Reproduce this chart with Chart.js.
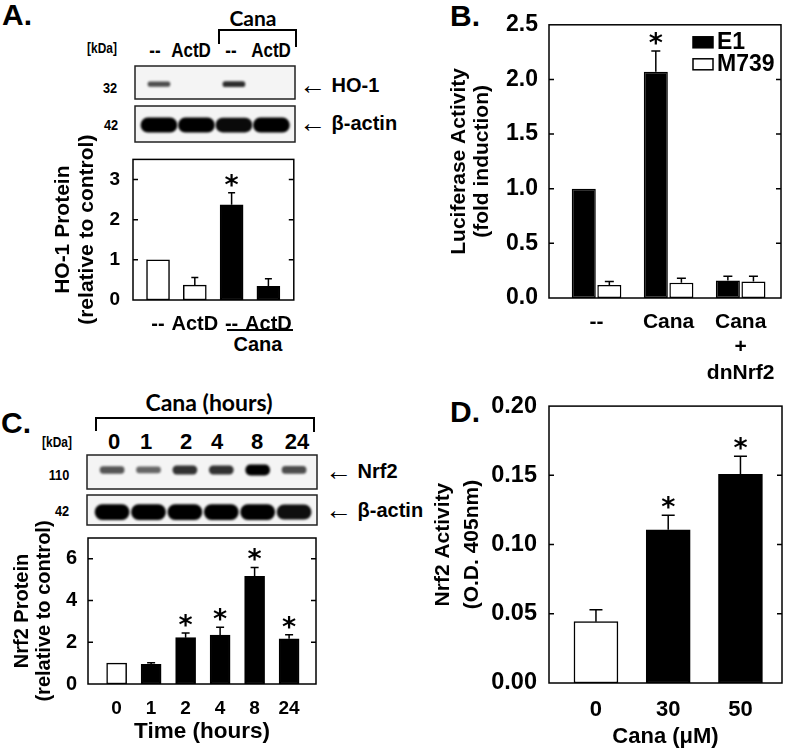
<!DOCTYPE html>
<html>
<head>
<meta charset="utf-8">
<title>Cana - HO-1 / Nrf2</title>
<script src="https://cdn.jsdelivr.net/npm/chart.js@4.4.1/dist/chart.umd.min.js"></script>
<style>
  body { margin: 0; background: #fff; }
  #fig { position: relative; width: 790px; height: 750px; overflow: hidden;
         font-family: "Liberation Sans", Arial, sans-serif; font-weight: bold; color: #000; }
  #fig canvas { position: absolute; }
  .t { position: absolute; transform: translate(-50%, -50%); white-space: nowrap; line-height: 1; }
  .nar { transform: translate(-50%, -50%) scaleX(0.85); }
  .lab { position: absolute; transform: translate(0, -50%); white-space: nowrap; line-height: 1; font-size: 20px; }
  .lab .arr { font-size: 27px; font-weight: normal; vertical-align: -2px; }
  .calib { font-family: Lato, "Open Sans", sans-serif; font-weight: 700; }
  .ln { position: absolute; background: #000; }
  .letter { font-size: 30px; }
</style>
</head>
<body>
<div id="fig">
  <!-- panel A : blot annotations -->
  <div class="t letter" style="left:17px;top:15px">A.</div>
  <div class="t calib" style="left:253px;top:17px;font-size:21px">Cana</div>
  <div class="ln" style="left:218px;top:29px;width:79px;height:2px"></div>
  <div class="ln" style="left:218px;top:29px;width:2px;height:15px"></div>
  <div class="ln" style="left:295px;top:29px;width:2px;height:18px"></div>
  <div class="t nar" style="left:102px;top:48px;font-size:14px">[kDa]</div>
  <div class="t nar" style="left:155px;top:50px;font-size:20px">--</div>
  <div class="t nar" style="left:191px;top:50px;font-size:20px">ActD</div>
  <div class="t nar" style="left:231px;top:50px;font-size:20px">--</div>
  <div class="t nar" style="left:271px;top:50px;font-size:20px">ActD</div>
  <div class="t nar" style="left:110px;top:87px;font-size:15px">32</div>
  <div class="t nar" style="left:111px;top:124px;font-size:15px">42</div>
  <div class="lab" style="left:299px;top:85px"><span class="arr">&larr;</span> HO-1</div>
  <div class="lab" style="left:299px;top:123px"><span class="arr">&larr;</span> &beta;-actin</div>
  <div class="ln" style="left:227px;top:329px;width:66px;height:2px"></div>
  <div class="t" style="left:258px;top:344px;font-size:20px">Cana</div>

  <!-- panel B -->
  <div class="t letter" style="left:465px;top:16px">B.</div>

  <!-- panel C : blot annotations -->
  <div class="t letter" style="left:16px;top:423px">C.</div>
  <div class="t calib" style="left:209px;top:402px;font-size:23px">Cana (hours)</div>
  <div class="ln" style="left:95px;top:417px;width:220px;height:2px"></div>
  <div class="ln" style="left:95px;top:417px;width:2px;height:14px"></div>
  <div class="ln" style="left:313px;top:417px;width:2px;height:15px"></div>
  <div class="t nar" style="left:57px;top:442px;font-size:14px">[kDa]</div>
  <div class="t" style="left:114px;top:442px;font-size:22px">0</div>
  <div class="t" style="left:146px;top:442px;font-size:22px">1</div>
  <div class="t" style="left:186px;top:442px;font-size:22px">2</div>
  <div class="t" style="left:217px;top:442px;font-size:22px">4</div>
  <div class="t" style="left:257px;top:442px;font-size:22px">8</div>
  <div class="t" style="left:297px;top:442px;font-size:22px">24</div>
  <div class="t nar" style="left:59px;top:474px;font-size:15px">110</div>
  <div class="t nar" style="left:62px;top:510px;font-size:15px">42</div>
  <div class="lab" style="left:325px;top:471px"><span class="arr">&larr;</span> Nrf2</div>
  <div class="lab" style="left:325px;top:510px"><span class="arr">&larr;</span> &beta;-actin</div>

  <!-- panel D -->
  <div class="t letter" style="left:465px;top:412px">D.</div>

  <canvas id="blotHO" width="162" height="35" style="left:134px;top:65px"></canvas>
  <canvas id="blotActA" width="162" height="38" style="left:134px;top:105px"></canvas>
  <canvas id="blotNrf2" width="232" height="36" style="left:86px;top:454px"></canvas>
  <canvas id="blotActC" width="232" height="32" style="left:86px;top:494px"></canvas>

  <canvas id="chartA" width="265" height="205" style="left:40px;top:135px"></canvas>
  <canvas id="chartB" width="350" height="392" style="left:440px;top:0px"></canvas>
  <canvas id="chartC" width="325" height="235" style="left:0px;top:515px"></canvas>
  <canvas id="chartD" width="370" height="370" style="left:420px;top:380px"></canvas>
</div>

<script>
// ---- data ----
// A: HO-1 protein (relative to control)
const aLabels = ['--', 'ActD', '--', 'ActD'];
const aValues = [1.0, 0.37, 2.37, 0.34];
const aErrors = [0, 0.19, 0.30, 0.19];
const aStars  = [false, false, true, false];
const aTicks  = [0, 1, 2, 3];

// B: luciferase activity (fold induction)
const bLabels = ['--', 'Cana', ['Cana', '+', 'dnNrf2']];
const bE1     = [1.0, 2.07, 0.16];
const bE1Err  = [0, 0.19, 0.04];
const bE1Star = [false, true, false];
const bM739   = [0.12, 0.14, 0.15];
const bM739Err = [0.03, 0.04, 0.05];
const bTicks  = [0, 0.5, 1.0, 1.5, 2.0, 2.5];

// C: Nrf2 protein over time
const cLabels = ['0', '1', '2', '4', '8', '24'];
const cValues = [1.0, 0.94, 2.22, 2.34, 5.16, 2.17];
const cErrors = [0, 0.08, 0.23, 0.38, 0.43, 0.19];
const cStars  = [false, false, true, true, true, true];
const cTicks  = [0, 2, 4, 6];

// D: Nrf2 activity (O.D. 405nm)
const dLabels = ['0', '30', '50'];
const dValues = [0.0443, 0.1107, 0.1508];
const dErrors = [0.0086, 0.0104, 0.0130];
const dStars  = [false, true, true];
const dTicks  = [0, 0.05, 0.10, 0.15, 0.20];

// western blot band strength per lane (0 = no band)
const hoBands   = [0.55, 0, 0.75, 0];
const actinA    = [1, 1, 0.95, 1];
const nrf2Bands = [0.5, 0.4, 0.72, 0.72, 1, 0.55];
const actinC    = [1, 1, 1, 1, 1, 0.92];

Chart.defaults.font.family = '"Liberation Sans", Arial, sans-serif';
Chart.defaults.font.weight = 'bold';
Chart.defaults.color = '#000';
Chart.defaults.animation = false;
Chart.defaults.plugins.legend.display = false;
Chart.defaults.plugins.tooltip.enabled = false;

// box round the plot area, with inward ticks on both sides
const framePlugin = {
  id: 'frame',
  afterDatasetsDraw(chart, args, opts) {
    const { ctx, chartArea: a } = chart;
    ctx.save();
    ctx.strokeStyle = '#000';
    ctx.lineWidth = opts.lineWidth || 1.5;
    ctx.strokeRect(a.left, a.top, a.right - a.left, a.bottom - a.top);
    if (opts.tickLen) {
      const y = chart.scales.y;
      ctx.beginPath();
      y.ticks.forEach(t => {
        const py = y.getPixelForValue(t.value);
        if (py <= a.top + 1 || py >= a.bottom - 1) return;
        ctx.moveTo(a.left, py); ctx.lineTo(a.left + opts.tickLen, py);
        ctx.moveTo(a.right, py); ctx.lineTo(a.right - opts.tickLen, py);
      });
      ctx.stroke();
    }
    ctx.restore();
  }
};

// upper error bars + significance stars
const errorBarPlugin = {
  id: 'errorBars',
  afterDatasetsDraw(chart, args, opts) {
    const { ctx } = chart;
    const yScale = chart.scales.y;
    ctx.save();
    ctx.strokeStyle = '#000';
    ctx.fillStyle = '#000';
    ctx.lineWidth = 1.5;
    ctx.font = 'bold 27px "DejaVu Sans"';
    ctx.textAlign = 'center';
    ctx.textBaseline = 'alphabetic';
    chart.data.datasets.forEach((ds, i) => {
      chart.getDatasetMeta(i).data.forEach((bar, j) => {
        const err = ds.errors ? ds.errors[j] : 0;
        const top = yScale.getPixelForValue(ds.data[j].y + err);
        if (err > 0) {
          ctx.beginPath();
          ctx.moveTo(bar.x, bar.y);
          ctx.lineTo(bar.x, top);
          ctx.moveTo(bar.x - opts.cap / 2, top);
          ctx.lineTo(bar.x + opts.cap / 2, top);
          ctx.stroke();
        }
        if (ds.stars && ds.stars[j]) ctx.fillText('*', bar.x, top + 1);
      });
    });
    ctx.restore();
  }
};

// small legend inside panel B (top right)
const boxLegendPlugin = {
  id: 'boxLegend',
  afterDraw(chart, args, opts) {
    if (!opts.show) return;
    const { ctx, chartArea: a } = chart;
    ctx.save();
    ctx.font = 'bold 23px "Liberation Sans"';
    ctx.textBaseline = 'middle';
    chart.data.datasets.forEach((ds, i) => {
      const x = a.right - 88, y = a.top + 12 + i * 22;
      ctx.fillStyle = ds.backgroundColor;
      ctx.fillRect(x, y, 20, 11);
      ctx.strokeStyle = '#000';
      ctx.lineWidth = 1.5;
      ctx.strokeRect(x, y, 20, 11);
      ctx.fillStyle = '#000';
      ctx.fillText(ds.label, x + 24, y + 6);
    });
    ctx.restore();
  }
};

function toXY(values) {
  return values.map((v, i) => ({ x: i, y: v }));
}

function barPanel(id, o) {
  return new Chart(document.getElementById(id), {
    type: 'bar',
    data: { datasets: o.datasets },
    options: {
      responsive: false,
      layout: { padding: o.padding },
      datasets: { bar: { borderColor: '#000', borderWidth: 1.5, borderSkipped: false,
                         barThickness: o.barThickness, categoryPercentage: o.catPct || 0.8,
                         barPercentage: o.barPct || 0.9 } },
      scales: {
        x: {
          type: 'linear', min: o.xMin, max: o.xMax, offset: false,
          grid: { display: false, drawTicks: false }, border: { display: false },
          afterBuildTicks: s => { s.ticks = o.labels.map((_, i) => ({ value: i })); },
          afterFit: s => { s.height = o.xHeight; },
          ticks: { callback: (v, i) => o.labels[i], padding: o.xPad, font: o.xFont,
                   autoSkip: false, maxRotation: 0, minRotation: 0 },
          title: o.xTitle ? { display: true, text: o.xTitle, font: o.xTitleFont,
                              padding: { top: 0, bottom: o.xTitlePad } } : { display: false }
        },
        y: {
          min: 0, max: o.yMax,
          grid: { display: false, drawTicks: false }, border: { display: false },
          afterBuildTicks: s => { s.ticks = o.yTicks.map(v => ({ value: v })); },
          afterFit: s => { s.width = o.yWidth; },
          ticks: { padding: o.yPad, font: o.yFont, callback: v => Number(v).toFixed(o.dec) },
          title: { display: true, text: o.yTitle, font: o.yTitleFont,
                   padding: { top: o.yTitlePad, bottom: 0 } }
        }
      },
      plugins: {
        frame: { tickLen: 5, lineWidth: 1.5 },
        errorBars: { cap: o.cap },
        boxLegend: { show: !!o.legend }
      }
    },
    plugins: [framePlugin, errorBarPlugin, boxLegendPlugin]
  });
}

// ---- A ----
barPanel('chartA', {
  labels: aLabels,
  datasets: [{ data: toXY(aValues), errors: aErrors, stars: aStars,
               backgroundColor: ['#fff', '#fff', '#000', '#000'] }],
  padding: { top: 16, right: 8, left: 0, bottom: 0 },
  xMin: -0.68, xMax: 3.69, xHeight: 40, xPad: 12, xFont: { size: 20 },
  barThickness: 23,
  yMax: 3.5, yTicks: aTicks, dec: 0, yWidth: 93, yPad: 13, yFont: { size: 19 },
  yTitle: ['HO-1 Protein', '(relative to control)'],
  yTitleFont: { size: 21, lineHeight: 1.15 }, yTitlePad: 11,
  cap: 7
});

// ---- B ----
barPanel('chartB', {
  labels: bLabels,
  datasets: [
    { label: 'E1', data: toXY(bE1), errors: bE1Err, stars: bE1Star, backgroundColor: '#000' },
    { label: 'M739', data: toXY(bM739), errors: bM739Err, backgroundColor: '#fff' }
  ],
  legend: true,
  padding: { top: 16, right: 9, left: 0, bottom: 0 },
  xMin: -0.66, xMax: 2.56, xHeight: 94, xPad: 11, xFont: { size: 21, lineHeight: 1.22 },
  catPct: 0.71, barPct: 0.94,
  yMax: 2.5, yTicks: bTicks, dec: 1, yWidth: 109, yPad: 11, yFont: { size: 23 },
  yTitle: ['Luciferase Activity', '(fold induction)'],
  yTitleFont: { size: 21, lineHeight: 1.1 }, yTitlePad: 8,
  cap: 9
});

// ---- C ----
barPanel('chartC', {
  labels: cLabels,
  datasets: [{ data: toXY(cValues), errors: cErrors, stars: cStars,
               backgroundColor: ['#fff', '#000', '#000', '#000', '#000', '#000'] }],
  padding: { top: 18, right: 9, left: 0, bottom: 0 },
  xMin: -0.83, xMax: 5.78, xHeight: 66, xPad: 13, xFont: { size: 19 },
  xTitle: 'Time (hours)', xTitleFont: { size: 22.5, lineHeight: 1.2 }, xTitlePad: 4.5,
  barThickness: 20,
  yMax: 7, yTicks: cTicks, dec: 0, yWidth: 88, yPad: 11, yFont: { size: 20 },
  yTitle: ['Nrf2 Protein', '(relative to control)'],
  yTitleFont: { size: 20, lineHeight: 1.1 }, yTitlePad: 11,
  cap: 8
});

// ---- D ----
barPanel('chartD', {
  labels: dLabels,
  datasets: [{ data: toXY(dValues), errors: dErrors, stars: dStars,
               backgroundColor: ['#fff', '#000', '#000'] }],
  padding: { top: 22, right: 8, left: 0, bottom: 0 },
  xMin: -0.65, xMax: 2.575, xHeight: 67, xPad: 14, xFont: { size: 22 },
  xTitle: 'Cana (\u03bcM)', xTitleFont: { size: 22, lineHeight: 1.2 }, xTitlePad: 0,
  barThickness: 44,
  yMax: 0.2, yTicks: dTicks, dec: 2, yWidth: 129, yPad: 12, yFont: { size: 23.5 },
  yTitle: ['Nrf2 Activity', '(O.D. 405nm)'],
  yTitleFont: { size: 21, lineHeight: 1.37 }, yTitlePad: 8.6,
  cap: 13
});

// ---- western blots: floating bars with soft edges ----
const blotPlugin = {
  id: 'blot',
  beforeDatasetsDraw(chart) {
    const { ctx, chartArea: a } = chart;
    ctx.save();
    ctx.fillStyle = '#f4f4f4';
    ctx.fillRect(a.left, a.top, a.right - a.left, a.bottom - a.top);
    ctx.filter = 'blur(1.3px)';
  },
  afterDatasetsDraw(chart) {
    const { ctx, chartArea: a } = chart;
    ctx.restore();
    ctx.save();
    ctx.strokeStyle = '#222';
    ctx.lineWidth = 1.5;
    ctx.strokeRect(a.left, a.top, a.right - a.left, a.bottom - a.top);
    ctx.restore();
  }
};

function makeBlot(id, bands, o) {
  const pts = [];
  bands.forEach((s, i) => {
    if (s <= 0) return;
    const half = o.minHalf + (o.maxHalf - o.minHalf) * s;
    pts.push({ x: i, y: [o.mid - half, o.mid + half], s: s });
  });
  return new Chart(document.getElementById(id), {
    type: 'bar',
    data: { datasets: [{
      data: pts,
      backgroundColor: c => 'rgba(0,0,0,' + (0.3 + 0.7 * c.raw.s).toFixed(2) + ')',
      borderWidth: 0, borderSkipped: false, borderRadius: 40,
      barThickness: o.width
    }] },
    options: {
      responsive: false,
      layout: { padding: 1 },
      scales: {
        x: { type: 'linear', min: o.xMin, max: o.xMax, offset: false, display: false },
        y: { min: 0, max: 1, display: false }
      }
    },
    plugins: [blotPlugin]
  });
}

makeBlot('blotHO', hoBands, { xMin: -0.64, xMax: 3.63, mid: 0.45, minHalf: 0.04, maxHalf: 0.09, width: 22 });
makeBlot('blotActA', actinA, { xMin: -0.64, xMax: 3.63, mid: 0.47, minHalf: 0.1, maxHalf: 0.2, width: 36 });
makeBlot('blotNrf2', nrf2Bands, { xMin: -0.69, xMax: 5.63, mid: 0.56, minHalf: 0.05, maxHalf: 0.15, width: 24 });
makeBlot('blotActC', actinC, { xMin: -0.69, xMax: 5.63, mid: 0.43, minHalf: 0.12, maxHalf: 0.25, width: 34 });
</script>
</body>
</html>
